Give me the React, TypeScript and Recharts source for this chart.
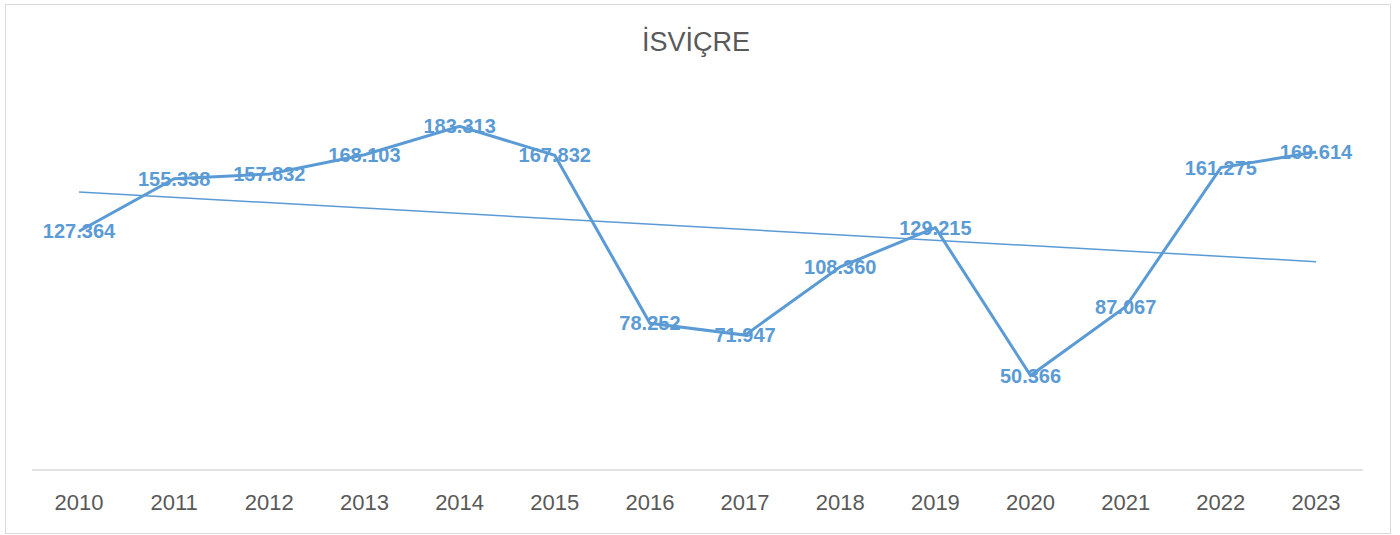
import { LabelList, Line, LineChart, XAxis, YAxis } from "recharts";

const years = ["2010", "2011", "2012", "2013", "2014", "2015", "2016", "2017", "2018", "2019", "2020", "2021", "2022", "2023"];
const values = [127.364, 155.338, 157.832, 168.103, 183.313, 167.832, 78.252, 71.947, 108.36, 129.215, 50.366, 87.067, 161.275, 169.614];
// linear trendline at its two ends
const trendEnds = [148.3, 111.1];

const data = years.map((year, i) => ({
  year,
  value: values[i],
  trend: i === 0 ? trendEnds[0] : i === years.length - 1 ? trendEnds[1] : null,
}));

const fmt = (v: number) => v.toFixed(3);

const font = "'Liberation Sans', Arial, sans-serif";

export default function App() {
  return (
    <div style={{ position: "fixed", left: 0, top: 0, width: 1400, height: 535, background: "#fff", fontFamily: font }}>
      <div
        style={{
          position: "absolute",
          left: 5,
          top: 4,
          width: 1384,
          height: 528,
          border: "1px solid #d9d9d9",
        }}
      />
      <div
        style={{
          position: "absolute",
          left: 0,
          top: 24,
          width: 1392,
          textAlign: "center",
          fontSize: 27,
          color: "#595959",
          lineHeight: "36px",
        }}
      >
        İSVİÇRE
      </div>
      <div style={{ position: "absolute", left: 0, top: 0 }}>
        <LineChart width={1400} height={535} data={data} margin={{ top: 95, right: 37, bottom: 35, left: 32 }}>
          <XAxis
            dataKey="year"
            height={30}
            padding={{ left: 47, right: 47 }}
            tickLine={false}
            axisLine={{ stroke: "#d9d9d9", strokeWidth: 1.5 }}
            tickMargin={18}
            tick={{ fill: "#595959", fontSize: 22, fontFamily: font }}
            interval={0}
          />
          <YAxis hide domain={[0, 200]} />
          <Line
            dataKey="trend"
            stroke="#5b9bd5"
            strokeWidth={1.5}
            dot={false}
            connectNulls
            isAnimationActive={false}
          />
          <Line
            dataKey="value"
            stroke="#5b9bd5"
            strokeWidth={3}
            dot={false}
            isAnimationActive={false}
          >
            <LabelList
              dataKey="value"
              position="center"
              formatter={(v: number) => fmt(v)}
              fill="#5b9bd5"
              style={{ fontSize: 20, fontWeight: "bold", fontFamily: font }}
            />
          </Line>
        </LineChart>
      </div>
    </div>
  );
}
